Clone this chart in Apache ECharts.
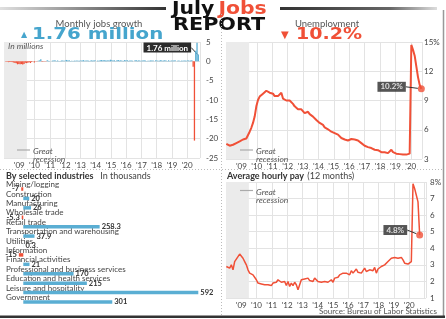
<!DOCTYPE html>
<html><head><meta charset="utf-8">
<script src="https://cdn.jsdelivr.net/npm/echarts@6/dist/echarts.min.js"></script>
<style>html,body{margin:0;padding:0;background:#fff}#c{width:446px;height:319px}</style>
</head><body><div id="c"></div>
<script>
// ---------- DATA ----------
// Monthly change in payroll jobs, millions (Jan 2008 - Jul 2020)
const jobsValues = [
 0.01,-0.09,-0.08,-0.21,-0.18,-0.17,-0.21,-0.27,-0.46,-0.47,-0.77,-0.70,
 -0.78,-0.70,-0.80,-0.69,-0.35,-0.47,-0.34,-0.21,-0.44,-0.20,-0.01,-0.27,
 -0.03,-0.07,0.16,0.25,0.52,-0.13,-0.07,-0.03,-0.06,0.26,0.13,0.07,
 0.04,0.19,0.24,0.31,0.10,0.22,0.08,0.11,0.21,0.20,0.13,0.21,
 0.36,0.23,0.26,0.08,0.12,0.07,0.18,0.17,0.20,0.14,0.16,0.23,
 0.19,0.31,0.13,0.20,0.23,0.18,0.11,0.26,0.19,0.21,0.26,0.05,
 0.19,0.17,0.27,0.33,0.24,0.32,0.23,0.20,0.27,0.23,0.42,0.26,
 0.19,0.27,0.08,0.25,0.34,0.18,0.28,0.16,0.13,0.33,0.21,0.25,
 0.12,0.24,0.23,0.17,0.04,0.30,0.29,0.15,0.25,0.13,0.16,0.22,
 0.26,0.20,0.07,0.18,0.15,0.23,0.19,0.21,0.02,0.27,0.22,0.17,
 0.18,0.32,0.16,0.20,0.27,0.23,0.09,0.28,0.11,0.24,0.18,0.23,
 0.27,0.01,0.15,0.22,0.06,0.18,0.17,0.21,0.19,0.16,0.26,0.18,
 0.21,0.25,-1.37,-20.5,2.73,4.78,1.76
];
const unempValues = [
 4.55,4.5,4.36,4.3,4.46,4.46,4.63,4.56,4.8,4.97,5.0,4.97,5.1,5.3,5.8,6.2,6.7,7.35,8.4,9.05,
 9.4,9.45,9.7,9.9,10.0,9.9,9.8,9.9,9.7,9.45,9.3,9.45,9.4,9.8,9.2,9.05,9.0,9.05,9.0,8.9,
 8.65,8.4,8.2,8.1,8.05,8.1,7.95,7.7,7.75,7.85,7.6,7.4,7.35,7.2,7.0,6.85,6.7,6.75,6.5,6.25,
 6.15,6.05,6.0,5.8,5.7,5.65,5.6,5.5,5.3,5.15,5.05,5.0,5.05,4.9,5.0,5.05,4.9,5.0,4.8,4.9,
 4.77,4.63,4.46,4.36,4.3,4.22,4.3,4.12,4.0,3.95,4.0,3.9,3.8,3.7,3.8,3.7,3.8,3.6,3.7,3.95,
 3.7,3.6,3.55,3.6,3.5,3.55,3.45,3.5,3.45,3.45,3.55,14.7,14.2,13.6,12.5,11.4,10.6,10.2
];
// Average hourly pay, 12-month change %
const payValues = [
 2.9,3.0,2.8,3.0,2.7,3.2,3.3,3.5,3.65,3.6,3.4,3.2,3.0,2.7,2.5,2.5,2.4,2.3,2.1,1.9,
 2.0,1.85,1.8,1.8,1.85,1.8,1.8,1.75,1.9,1.85,1.95,2.1,2.2,1.95,1.9,2.0,1.75,2.0,1.7,1.9,
 1.75,1.95,1.8,1.5,1.8,2.1,2.0,2.15,2.05,2.2,2.05,2.15,2.0,2.2,2.1,2.0,2.1,1.95,2.05,2.0,
 2.1,1.95,2.0,2.1,1.95,2.2,2.3,2.25,2.4,2.3,2.5,2.4,2.5,2.55,2.4,2.65,2.5,2.6,2.75,2.55,
 2.65,2.5,2.65,2.8,2.6,2.5,2.7,2.6,2.65,2.85,2.5,2.75,2.7,2.9,2.8,3.0,2.9,3.2,3.3,3.4,
 3.3,3.45,3.35,3.4,3.3,3.45,3.3,3.1,3.2,3.05,3.1,3.2,7.9,7.6,7.2,6.8,4.8
];
const industries = ['Mining/logging','Construction','Manufacturing','Wholesale trade','Retail trade',
 'Transportation and warehousing','Utilities','Information','Financial activities',
 'Professional and business services','Education and health services','Leisure and hospitality','Government'];
const industryValues = [-7, 20, 26, -5.3, 258.3, 37.9, 0.3, -15, 21, 170, 215, 592, 301];
const firstYear = 2008, lastYear = 2020;
const recession = [2008, 2009.5];
const jobsLabel = '1.76 million', unempLabel = '10.2%', payLabel = '4.8%';

// ---------- CHART ----------
const RED = '#f05037', BLUE = '#5aaed3', GRIDC = '#e3e3e3', AX = '#444', FONT = 'Lato';
const chart = echarts.init(document.getElementById('c'), null, {renderer: 'canvas'});
const yearFmt = v => (v >= firstYear + 1 && v <= lastYear) ? "'" + String(Math.round(v)).slice(2) : '';
function yearAxis(grid, max) {
  return {type: 'value', gridIndex: grid, min: firstYear, max: max, interval: 1,
    axisLine: {show: false}, axisTick: {show: false},
    axisLabel: {formatter: yearFmt, fontSize: 8, color: AX, margin: 3, fontFamily: FONT},
    splitLine: {lineStyle: {color: GRIDC, width: 1}}};
}
function hiddenAxis(grid, min, max) { return {type: 'value', gridIndex: grid, min: min, max: max, show: false}; }
function rightAxis(grid, min, max, interval, fmt, margin) {
  return {type: 'value', gridIndex: grid, position: 'right', min: min, max: max, interval: interval,
    axisLine: {show: false}, axisTick: {show: false},
    axisLabel: {fontSize: 8, color: AX, margin: margin, fontFamily: FONT, formatter: fmt},
    splitLine: {lineStyle: {color: GRIDC, width: 1}}};
}
const boxLabel = (txt) => ({show: true, formatter: txt, color: '#fff', backgroundColor: '#2b2b2b',
  fontWeight: 'bold', fontSize: 8, fontFamily: FONT, padding: [1, 3, 0, 3], lineHeight: 9});
function recessionSeries(xi, yi) {
  return {type: 'line', xAxisIndex: xi, yAxisIndex: yi, data: [], silent: true, z: 1,
    markArea: {silent: true, itemStyle: {color: '#ebebeb'},
      data: [[{xAxis: recession[0]}, {xAxis: recession[1]}]]}};
}
const jobsLast = jobsValues.length - 1;
const jobsData = jobsValues.map((v, i) => i === jobsLast
  ? {value: [i, v], label: Object.assign(boxLabel(jobsLabel), {position: 'top'}),
     labelLine: {show: true, lineStyle: {color: '#333', width: 1}}}
  : [i, v]);
const uLast = unempValues.length - 1, pLast = payValues.length - 1;

const option = {
  animation: false,
  grid: [
    {left: 4, top: 42, width: 196, height: 116},
    {left: 226, top: 42, width: 196, height: 117},
    {left: 6, top: 184.3, width: 199, height: 122.4},
    {left: 226, top: 182, width: 200, height: 116}
  ],
  xAxis: [
    yearAxis(0, 2020.84),
    hiddenAxis(0, -0.5, 151.3),
    yearAxis(1, 2020.73),
    hiddenAxis(1, -0.2, 117.4),
    {type: 'value', gridIndex: 2, min: -58.5, max: 614.7, show: false},
    yearAxis(3, 2021.1),
    hiddenAxis(3, -0.2, 119.8)
  ],
  yAxis: [
    rightAxis(0, -25, 5, 5, v => String(v), 6),
    rightAxis(1, 3, 15, 3, v => v === 15 ? '15%' : String(v), 2),
    {type: 'category', gridIndex: 2, data: industries, inverse: true,
     axisLine: {show: false, onZero: false}, axisTick: {show: false}, splitLine: {show: false},
     axisLabel: {inside: true, interval: 0, margin: 0, align: 'left', verticalAlign: 'bottom',
       fontSize: 8, color: '#444', fontFamily: FONT, lineHeight: 9}},
    rightAxis(3, 1, 8, 1, v => v === 8 ? '8%' : String(v), 4)
  ],
  series: [
    recessionSeries(0, 0),
    {type: 'bar', xAxisIndex: 1, yAxisIndex: 0, data: jobsData, barWidth: 1.3, z: 3,
     itemStyle: {color: p => (p.value[1] < 0 ? RED : BLUE)},
     labelLayout: p => (p.dataIndex === jobsLast ? {dx: -31, dy: 3} : {})},
    recessionSeries(2, 1),
    {type: 'line', xAxisIndex: 3, yAxisIndex: 1, data: unempValues.map((v, i) => [i, v]),
     showSymbol: false, lineStyle: {color: RED, width: 2}, z: 3},
    {type: 'scatter', xAxisIndex: 3, yAxisIndex: 1, data: [[uLast, unempValues[uLast]]],
     symbolSize: 7, itemStyle: {color: RED}, z: 4,
     label: Object.assign(boxLabel(unempLabel), {position: 'left', distance: 4}),
     labelLine: {show: true, lineStyle: {color: '#333', width: 1}},
     labelLayout: {dx: -8, dy: -2}},
    {type: 'bar', xAxisIndex: 4, yAxisIndex: 2, barWidth: 3.5,
     data: industryValues.map(v => ({value: v, itemStyle: {color: v < 0 ? RED : BLUE},
       label: {position: v < 0 ? 'left' : 'right'}})),
     label: {show: true, formatter: '{c}', fontSize: 7.5, fontWeight: 'bold', color: '#333',
       fontFamily: FONT, distance: 2}},
    recessionSeries(5, 3),
    {type: 'line', xAxisIndex: 6, yAxisIndex: 3, data: payValues.map((v, i) => [i, v]),
     showSymbol: false, lineStyle: {color: RED, width: 1.5}, z: 3},
    {type: 'scatter', xAxisIndex: 6, yAxisIndex: 3, data: [[pLast, payValues[pLast]]],
     symbolSize: 7, itemStyle: {color: RED}, z: 4,
     label: Object.assign(boxLabel(payLabel), {position: 'left', distance: 4}),
     labelLine: {show: true, lineStyle: {color: '#333', width: 1}},
     labelLayout: {dx: -5, dy: -5}}
  ],
  graphic: [
    {type: 'rect', shape: {x: 0, y: 7, width: 166, height: 3}, silent: true,
     style: {fill: new echarts.graphic.LinearGradient(0, 0, 1, 0, [{offset: 0, color: '#e0e0e0'}, {offset: 1, color: '#333'}])}},
    {type: 'rect', shape: {x: 280, y: 7, width: 157, height: 3}, silent: true,
     style: {fill: new echarts.graphic.LinearGradient(0, 0, 1, 0, [{offset: 0, color: '#333'}, {offset: 0.7, color: '#666'}, {offset: 1, color: '#ddd'}])}},
    {type: 'text', x: 172, y: 10, scaleX: 1.2, silent: true,
     style: {text: '{a|July} {b|Jobs}', align: 'left', verticalAlign: 'middle', textVerticalAlign: 'middle',
       rich: {a: {fill: '#111', fontSize: 17, fontWeight: 'bold', fontFamily: 'DejaVu Sans'},
              b: {fill: RED, fontSize: 17, fontWeight: 'bold', fontFamily: 'DejaVu Sans'}}}},
    {type: 'text', x: 173, y: 26, scaleX: 1.22, silent: true,
     style: {text: 'REPORT', fill: '#111', fontSize: 17, fontWeight: 'bold', fontFamily: 'DejaVu Sans', align: 'left', verticalAlign: 'middle', textVerticalAlign: 'middle'}},
    {type: 'text', x: 99, y: 24, silent: true,
     style: {text: 'Monthly jobs growth', fill: '#555', fontSize: 9.5, fontFamily: FONT, align: 'center', verticalAlign: 'middle'}},
    {type: 'text', x: 21, y: 35, silent: true,
     style: {text: '\u25B2', fill: '#46a5cd', fontSize: 8, fontFamily: 'DejaVu Sans', align: 'left', verticalAlign: 'middle'}},
    {type: 'text', x: 32, y: 35, scaleX: 1.32, silent: true,
     style: {text: jobsLabel, fill: '#46a5cd', fontSize: 15, fontWeight: 'bold', fontFamily: 'DejaVu Sans', align: 'left', verticalAlign: 'middle'}},
    {type: 'text', x: 327, y: 24, silent: true,
     style: {text: 'Unemployment', fill: '#555', fontSize: 9.5, fontFamily: FONT, align: 'center', verticalAlign: 'middle'}},
    {type: 'text', x: 281, y: 35, silent: true,
     style: {text: '\u25BC', fill: RED, fontSize: 10, fontFamily: 'DejaVu Sans', align: 'left', verticalAlign: 'middle'}},
    {type: 'text', x: 296, y: 35, scaleX: 1.27, silent: true,
     style: {text: unempLabel, fill: RED, fontSize: 15, fontWeight: 'bold', fontFamily: 'DejaVu Sans', align: 'left', verticalAlign: 'middle'}},
    {type: 'text', x: 8, y: 46, silent: true, z: 10,
     style: {text: 'In millions', fill: '#555', fontSize: 8.5, fontStyle: 'italic', fontFamily: FONT, align: 'left', verticalAlign: 'middle'}},
    // Great recession keys
    {type: 'line', shape: {x1: 17, y1: 150, x2: 30, y2: 150}, style: {stroke: '#aaa', lineWidth: 1.2}, silent: true, z: 10},
    {type: 'text', x: 33, y: 147.5, silent: true, z: 10, style: {text: 'Great\nrecession', fill: '#555', fontSize: 8.5, lineHeight: 8, fontStyle: 'italic', fontFamily: FONT, align: 'left', verticalAlign: 'top'}},
    {type: 'line', shape: {x1: 240, y1: 150, x2: 253, y2: 150}, style: {stroke: '#aaa', lineWidth: 1.2}, silent: true, z: 10},
    {type: 'text', x: 256, y: 147.5, silent: true, z: 10, style: {text: 'Great\nrecession', fill: '#555', fontSize: 8.5, lineHeight: 8, fontStyle: 'italic', fontFamily: FONT, align: 'left', verticalAlign: 'top'}},
    {type: 'line', shape: {x1: 240, y1: 190.5, x2: 253, y2: 190.5}, style: {stroke: '#aaa', lineWidth: 1.2}, silent: true, z: 10},
    {type: 'text', x: 256, y: 188, silent: true, z: 10, style: {text: 'Great\nrecession', fill: '#555', fontSize: 8.5, lineHeight: 8, fontStyle: 'italic', fontFamily: FONT, align: 'left', verticalAlign: 'top'}},
    // section titles
    {type: 'text', x: 6, y: 176.5, silent: true,
     style: {text: '{b|By selected industries}  {n|In thousands}', align: 'left', verticalAlign: 'middle',
       rich: {b: {fill: '#333', fontSize: 9, fontWeight: 'bold', fontFamily: FONT}, n: {fill: '#444', fontSize: 9, fontFamily: FONT}}}},
    {type: 'text', x: 227, y: 176.5, silent: true,
     style: {text: '{b|Average hourly pay} {n|(12 months)}', align: 'left', verticalAlign: 'middle',
       rich: {b: {fill: '#333', fontSize: 9, fontWeight: 'bold', fontFamily: FONT}, n: {fill: '#444', fontSize: 9, fontFamily: FONT}}}},
    {type: 'text', x: 437, y: 311, silent: true,
     style: {text: 'Source: Bureau of Labor Statistics', fill: '#555', fontSize: 8, fontFamily: FONT, align: 'right', verticalAlign: 'middle'}},
    // separators and frame
    {type: 'line', shape: {x1: 0, y1: 169.5, x2: 443, y2: 169.5}, style: {stroke: '#bbb', lineWidth: 1, lineDash: [1, 2]}, silent: true},
    {type: 'line', shape: {x1: 221.5, y1: 14, x2: 221.5, y2: 315}, style: {stroke: '#bbb', lineWidth: 1, lineDash: [1, 2]}, silent: true},
    {type: 'line', shape: {x1: 443.5, y1: 10, x2: 443.5, y2: 317}, style: {stroke: '#999', lineWidth: 1.5}, silent: true},
    {type: 'rect', shape: {x: 0, y: 315.5, width: 445, height: 2.5}, style: {fill: '#333'}, silent: true}
  ]
};
chart.setOption(option);
</script></body></html>
